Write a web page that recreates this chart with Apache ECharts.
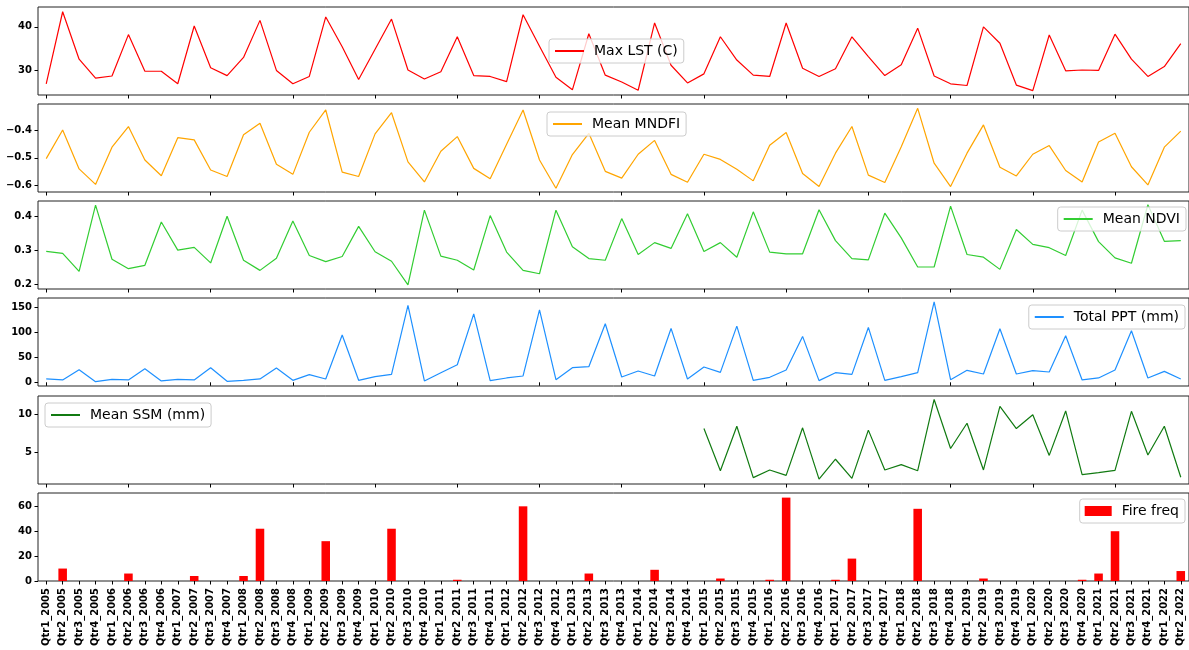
<!DOCTYPE html>
<html>
<head>
<meta charset="utf-8">
<script src="https://cdn.jsdelivr.net/npm/echarts@6/dist/echarts.min.js"></script>
<style>
  html, body { margin: 0; padding: 0; background: #fff; }
  #chart { width: 1189px; height: 650px; }
</style>
</head>
<body>
<div id="chart"></div>
<script>
// Quarterly categories shared by every panel
const quarters = [
  'Qtr1_2005','Qtr2_2005','Qtr3_2005','Qtr4_2005','Qtr1_2006','Qtr2_2006','Qtr3_2006','Qtr4_2006',
  'Qtr1_2007','Qtr2_2007','Qtr3_2007','Qtr4_2007','Qtr1_2008','Qtr2_2008','Qtr3_2008','Qtr4_2008',
  'Qtr1_2009','Qtr2_2009','Qtr3_2009','Qtr4_2009','Qtr1_2010','Qtr2_2010','Qtr3_2010','Qtr4_2010',
  'Qtr1_2011','Qtr2_2011','Qtr3_2011','Qtr4_2011','Qtr1_2012','Qtr2_2012','Qtr3_2012','Qtr4_2012',
  'Qtr1_2013','Qtr2_2013','Qtr3_2013','Qtr4_2013','Qtr1_2014','Qtr2_2014','Qtr3_2014','Qtr4_2014',
  'Qtr1_2015','Qtr2_2015','Qtr3_2015','Qtr4_2015','Qtr1_2016','Qtr2_2016','Qtr3_2016','Qtr4_2016',
  'Qtr1_2017','Qtr2_2017','Qtr3_2017','Qtr4_2017','Qtr1_2018','Qtr2_2018','Qtr3_2018','Qtr4_2018',
  'Qtr1_2019','Qtr2_2019','Qtr3_2019','Qtr4_2019','Qtr1_2020','Qtr2_2020','Qtr3_2020','Qtr4_2020',
  'Qtr1_2021','Qtr2_2021','Qtr3_2021','Qtr4_2021','Qtr1_2022','Qtr2_2022'
];

// Maximum land surface temperature (C)
const maxLST = [
  26.8, 43.5, 32.5, 28.1, 28.6, 38.2, 29.7, 29.7, 26.8, 40.2,
  30.5, 28.7, 32.9, 41.5, 29.9, 26.8, 28.5, 42.3, 35.4, 27.8,
  34.8, 41.8, 30.0, 27.9, 29.6, 37.7, 28.7, 28.5, 27.3, 42.8,
  35.5, 28.3, 25.4, 38.4, 28.8, 27.2, 25.3, 40.9, 31.1, 27.0,
  29.1, 37.7, 32.3, 28.8, 28.5, 40.9, 30.4, 28.5, 30.3, 37.7,
  33.1, 28.7, 31.2, 39.7, 28.6, 26.8, 26.4, 40.0, 36.2, 26.5,
  25.2, 38.1, 29.8, 30.0, 29.9, 38.3, 32.5, 28.5, 30.8, 36.1
];

// Mean MNDFI
const meanMNDFI = [
  -0.503, -0.398, -0.541, -0.598, -0.461, -0.385, -0.508, -0.566, -0.426, -0.434,
  -0.545, -0.569, -0.415, -0.373, -0.524, -0.561, -0.406, -0.324, -0.553, -0.569,
  -0.412, -0.334, -0.515, -0.589, -0.476, -0.422, -0.539, -0.577, -0.450, -0.324,
  -0.508, -0.612, -0.488, -0.410, -0.550, -0.575, -0.487, -0.436, -0.561, -0.590,
  -0.487, -0.506, -0.542, -0.585, -0.454, -0.407, -0.558, -0.606, -0.483, -0.385,
  -0.564, -0.591, -0.459, -0.318, -0.520, -0.606, -0.483, -0.379, -0.535, -0.567,
  -0.487, -0.455, -0.547, -0.589, -0.442, -0.410, -0.533, -0.600, -0.461, -0.402
];

// Mean NDVI
const meanNDVI = [
  0.297, 0.291, 0.238, 0.434, 0.274, 0.246, 0.256, 0.384, 0.301, 0.309,
  0.263, 0.401, 0.271, 0.241, 0.277, 0.387, 0.285, 0.267, 0.282, 0.371,
  0.296, 0.268, 0.198, 0.419, 0.283, 0.271, 0.242, 0.403, 0.295, 0.241,
  0.231, 0.419, 0.311, 0.276, 0.271, 0.394, 0.288, 0.323, 0.306, 0.408,
  0.297, 0.323, 0.280, 0.414, 0.295, 0.290, 0.290, 0.420, 0.329, 0.276,
  0.272, 0.410, 0.337, 0.251, 0.251, 0.431, 0.288, 0.280, 0.244, 0.362,
  0.318, 0.308, 0.285, 0.419, 0.326, 0.278, 0.262, 0.435, 0.327, 0.329
];

// Total precipitation (mm)
const totalPPT = [
  6.7, 4.7, 25.3, 1.3, 6.0, 4.7, 27.3, 2.7, 6.0, 4.7,
  29.3, 2.0, 4.0, 6.7, 28.7, 4.0, 15.3, 6.7, 94.7, 4.0,
  11.3, 16.0, 154.0, 2.7, 19.3, 35.3, 137.3, 3.3, 8.7, 12.7,
  145.3, 5.3, 29.3, 31.3, 117.3, 10.7, 22.7, 12.7, 108.0, 6.7,
  30.7, 20.0, 112.7, 4.0, 10.0, 24.7, 92.0, 3.3, 19.3, 16.0,
  110.0, 4.0, 11.3, 19.3, 161.3, 5.3, 24.0, 16.7, 107.3, 16.7,
  23.3, 20.7, 93.3, 4.7, 8.7, 24.7, 103.3, 8.7, 22.0, 6.7
];

// Mean soil moisture (mm), records begin in Qtr1_2015
const meanSSM = [
  null, null, null, null, null, null, null, null, null, null,
  null, null, null, null, null, null, null, null, null, null,
  null, null, null, null, null, null, null, null, null, null,
  null, null, null, null, null, null, null, null, null, null,
  8.1, 2.6, 8.4, 1.7, 2.7, 2.0, 8.2, 1.5, 4.1, 1.6,
  7.9, 2.7, 3.4, 2.6, 11.9, 5.5, 8.8, 2.7, 11.0, 8.1,
  9.9, 4.6, 10.4, 2.1, 2.35, 2.65, 10.35, 4.65, 8.4, 1.75
];

// Fire frequency per quarter
const fireFreq = [
  0, 10, 0, 0, 0, 6, 0, 0, 0, 4,
  0, 0, 4, 42, 0, 0, 0, 32, 0, 0,
  0, 42, 0, 0, 0, 1, 0, 0, 0, 60,
  0, 0, 0, 6, 0, 0, 0, 9, 0, 0,
  0, 2, 0, 0, 1, 67, 0, 0, 1, 18,
  0, 0, 0, 58, 0, 0, 0, 2, 0, 0,
  0, 0, 0, 1, 6, 40, 0, 0, 0, 8
];

// Y tick values per panel
const ticksLST = [30, 40];
const ticksMNDFI = [-0.6, -0.5, -0.4];
const ticksNDVI = [0.2, 0.3, 0.4];
const ticksPPT = [0, 50, 100, 150];
const ticksSSM = [5, 10];
const ticksFire = [0, 20, 40, 60];

const FONT = 'DejaVu Sans';
const panelTops = [7, 104, 201, 298, 396, 493];
const panelHeight = 88;

const chart = echarts.init(document.getElementById('chart'), null, { renderer: 'canvas' });

const grids = panelTops.map(t => ({
  left: 38, width: 1153, top: t, height: panelHeight,
  show: true, borderColor: '#222', borderWidth: 1, backgroundColor: 'transparent'
}));

const xAxes = panelTops.map((t, i) => ({
  type: 'category', gridIndex: i, data: quarters, boundaryGap: true,
  axisLine: { show: false },
  axisTick: { show: true, alignWithLabel: true, length: 3.5, lineStyle: { color: '#000', width: 1 } },
  axisLabel: i === 5 ? {
    show: true, interval: 0, rotate: 90, margin: 7,
    fontFamily: FONT, fontWeight: 'bold', fontSize: 10, color: '#000'
  } : { show: false },
  splitLine: { show: false }
}));

function fmt(v) {
  const digits = Math.abs(v) < 1 && v !== 0 ? 1 : 0;
  const s = Math.abs(v).toFixed(digits);
  return (v < 0 ? '\u2212' : '') + s;
}

function yAxis(idx, min, max, ticks) {
  return {
    type: 'value', gridIndex: idx, min: min, max: max,
    splitLine: { show: false },
    axisLine: { show: false },
    axisTick: { show: true, length: 3.5, customValues: ticks, lineStyle: { color: '#000', width: 1 } },
    axisLabel: {
      show: true, customValues: ticks, margin: 6, formatter: fmt,
      fontFamily: FONT, fontWeight: 'bold', fontSize: 10, color: '#000'
    }
  };
}

const yAxes = [
  yAxis(0, 24.2, 44.6, ticksLST),
  yAxis(1, -0.626, -0.302, ticksMNDFI),
  yAxis(2, 0.186, 0.446, ticksNDVI),
  yAxis(3, -7.4, 169, ticksPPT),
  yAxis(4, 0.87, 12.35, ticksSSM),
  yAxis(5, 0, 70.7, ticksFire)
];

function lineSeries(name, idx, data, color) {
  return {
    name: name, type: 'line', xAxisIndex: idx, yAxisIndex: idx, data: data,
    symbol: 'none', showSymbol: false, connectNulls: false,
    lineStyle: { color: color, width: 1.2 }, itemStyle: { color: color }
  };
}

const series = [
  lineSeries('Max LST (C)', 0, maxLST, '#ff0000'),
  lineSeries('Mean MNDFI', 1, meanMNDFI, '#ffa500'),
  lineSeries('Mean NDVI', 2, meanNDVI, '#32cd32'),
  lineSeries('Total PPT (mm)', 3, totalPPT, '#1e90ff'),
  lineSeries('Mean SSM (mm)', 4, meanSSM, '#117a11'),
  {
    name: 'Fire freq', type: 'bar', xAxisIndex: 5, yAxisIndex: 5, data: fireFreq,
    barWidth: '52%', itemStyle: { color: '#ff0000' }
  }
];

// Legend boxes: line samples only (no marker) for the line panels
function legendBox(name, pos, isBar) {
  const cfg = {
    data: [name], orient: 'horizontal',
    padding: [5, 6, 5, 5],
    itemWidth: isBar ? 27 : 29, itemHeight: isBar ? 10 : 14,
    backgroundColor: 'rgba(255,255,255,0.8)', borderColor: '#cccccc', borderWidth: 1, borderRadius: 3,
    textStyle: { fontFamily: FONT, fontSize: 14, color: '#000', padding: [0, 0, 0, 5] },
    selectedMode: false
  };
  if (isBar) {
    cfg.icon = 'rect';
  } else {
    cfg.itemStyle = { opacity: 0 };
  }
  return Object.assign(cfg, pos);
}

const legends = [
  legendBox('Max LST (C)', { left: 549, top: 39 }, false),
  legendBox('Mean MNDFI', { left: 547, top: 112 }, false),
  legendBox('Mean NDVI', { right: 3, top: 207 }, false),
  legendBox('Total PPT (mm)', { right: 4, top: 305 }, false),
  legendBox('Mean SSM (mm)', { left: 45, top: 403 }, false),
  legendBox('Fire freq', { right: 4, top: 499 }, true)
];

chart.setOption({
  animation: false,
  backgroundColor: '#ffffff',
  grid: grids,
  xAxis: xAxes,
  yAxis: yAxes,
  legend: legends,
  series: series
});
</script>
</body>
</html>
